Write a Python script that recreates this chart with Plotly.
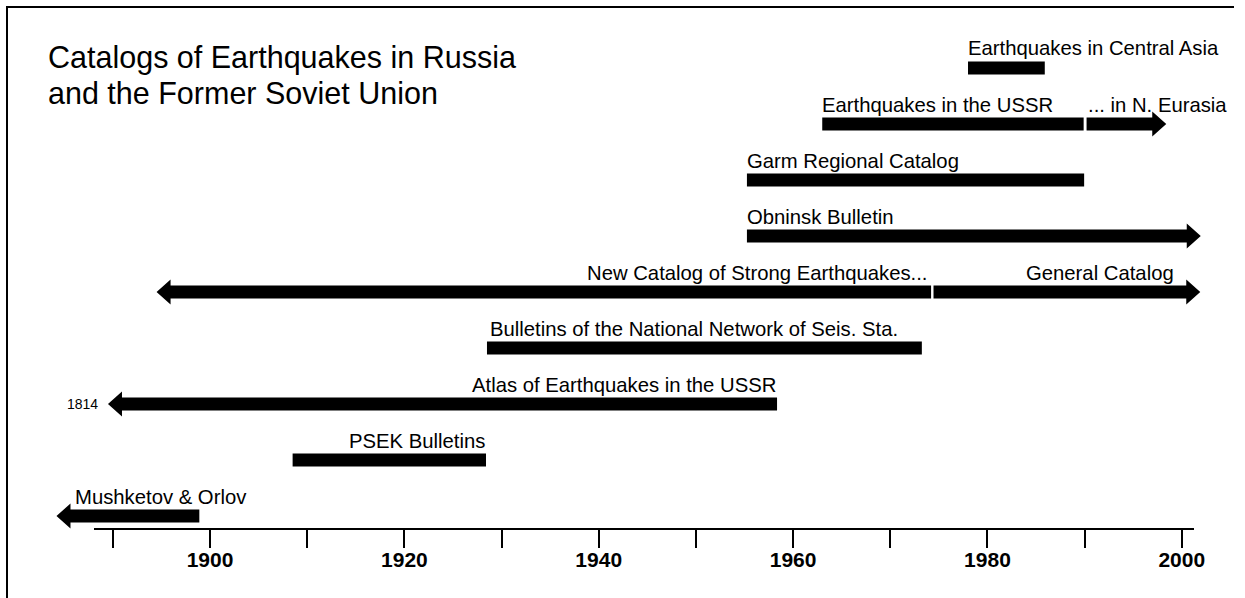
import plotly.graph_objects as go

# ---------------- data (years) ----------------
catalogs = [
    "Earthquakes in Central Asia",
    "Earthquakes in the USSR",
    "... in N. Eurasia",
    "Garm Regional Catalog",
    "Obninsk Bulletin",
    "New Catalog of Strong Earthquakes...",
    "General Catalog",
    "Bulletins of the National Network of Seis. Sta.",
    "Atlas of Earthquakes in the USSR",
    "PSEK Bulletins",
    "Mushketov & Orlov",
]
start_year = [1978.0, 1963.0, 1990.2, 1955.25, 1955.25, 1894.5, 1974.45, 1928.5, 1889.5, 1908.5, 1884.2]
end_year = [1985.9, 1989.9, 1998.4, 1989.95, 2001.95, 1974.2, 2001.9, 1973.25, 1958.35, 1928.4, 1898.9]
arrow_side = ["none", "none", "right", "none", "right", "left", "right", "none", "left", "none", "left"]
row_index = [0, 1, 1, 2, 3, 4, 4, 5, 6, 7, 8]
label_side = ["start", "start", "start", "start", "start", "end", "end", "start", "end", "end", "start"]

axis_tick_years = [1890, 1900, 1910, 1920, 1930, 1940, 1950, 1960, 1970, 1980, 1990, 2000]
axis_tick_labels = ["", "1900", "", "1920", "", "1940", "", "1960", "", "1980", "", "2000"]

title_lines = ["Catalogs of Earthquakes in Russia", "and the Former Soviet Union"]
atlas_origin_label = "1814"

# ---------------- layout constants (pixels) ----------------
W, H = 1245, 598
SX = 1.009                    # horizontal compensation
PX_PER_YEAR = 9.717
X_1900 = 210.0
ROW0, ROW_STEP = 68.0, 56.0
BAR_HALF, HEAD_HALF, HEAD_LEN_PX = 6.5, 12.5, 14.0
AXIS_Y, AXIS_X0, AXIS_X1 = 529.0, 94.0, 1194.0
FONT = "Liberation Sans, Arial, Helvetica, sans-serif"


def px_to_year(px):
    return 1900 + (px - X_1900) / PX_PER_YEAR


def px_to_paper(px):
    return min(1.0, px * SX / W)


HEAD_LEN = HEAD_LEN_PX / PX_PER_YEAR

label_xshift = {
    "Earthquakes in Central Asia": -2,
    "Earthquakes in the USSR": -2,
    "... in N. Eurasia": -1,
    "Garm Regional Catalog": -2,
    "Obninsk Bulletin": -2,
    "New Catalog of Strong Earthquakes...": -2,
    "General Catalog": -24,
    "Bulletins of the National Network of Seis. Sta.": 1,
    "Atlas of Earthquakes in the USSR": 1,
    "PSEK Bulletins": 1,
    "Mushketov & Orlov": 17,
}

fig = go.Figure()
annotations = []

for name, s, e, arr, r, side in zip(catalogs, start_year, end_year, arrow_side, row_index, label_side):
    c = ROW0 + ROW_STEP * r
    top, bot = c - BAR_HALF, c + BAR_HALF
    if arr == "right":
        b = e - HEAD_LEN
        xs = [s, b, b, e, b, b, s, s]
        ys = [top, top, c - HEAD_HALF, c, c + HEAD_HALF, bot, bot, top]
    elif arr == "left":
        b = s + HEAD_LEN
        xs = [e, b, b, s, b, b, e, e]
        ys = [top, top, c - HEAD_HALF, c, c + HEAD_HALF, bot, bot, top]
    else:
        xs = [s, e, e, s, s]
        ys = [top, top, bot, bot, top]
    fig.add_trace(go.Scatter(
        x=xs, y=ys, mode="lines", fill="toself", fillcolor="black",
        line=dict(width=0, color="black"), hoverinfo="skip", showlegend=False,
    ))
    annotations.append(dict(
        x=s if side == "start" else e, y=top, xref="x", yref="y",
        text=name, showarrow=False,
        xanchor="left" if side == "start" else "right", yanchor="bottom",
        xshift=label_xshift.get(name, 0),
        font=dict(family=FONT, size=20.3, color="black"),
    ))
    if name.startswith("Atlas"):
        annotations.append(dict(
            x=s, y=c, xref="x", yref="y", text=atlas_origin_label, showarrow=False,
            xanchor="right", yanchor="middle", xshift=-8,
            font=dict(family=FONT, size=14, color="black"),
        ))

# title (two lines)
for i, line in enumerate(title_lines):
    annotations.append(dict(
        x=px_to_paper(46), xref="paper", y=77 + 35 * i, yref="y",
        text=line, showarrow=False, xanchor="left", yanchor="bottom",
        font=dict(family=FONT, size=30.5, color="black"),
    ))

# invisible trace anchoring the timeline axis
fig.add_trace(go.Scatter(
    x=[axis_tick_years[1]], y=[AXIS_Y], xaxis="x2", yaxis="y", mode="markers",
    marker=dict(opacity=0), hoverinfo="skip", showlegend=False,
))

shapes = [
    dict(type="line", xref="paper", yref="paper", x0=px_to_paper(6), x1=px_to_paper(1237),
         y0=1 - 7 / H, y1=1 - 7 / H, line=dict(color="black", width=2)),
    dict(type="line", xref="paper", yref="paper", x0=px_to_paper(7), x1=px_to_paper(7),
         y0=0, y1=1 - 6 / H, line=dict(color="black", width=2)),
]

fig.update_layout(
    width=W, height=H, autosize=False,
    margin=dict(l=0, r=0, t=0, b=0),
    paper_bgcolor="white", plot_bgcolor="rgba(0,0,0,0)",
    showlegend=False,
    xaxis=dict(range=[px_to_year(0), px_to_year(W / SX)], visible=False, fixedrange=True),
    yaxis=dict(range=[H, 0], visible=False, fixedrange=True),
    xaxis2=dict(
        domain=[px_to_paper(AXIS_X0), px_to_paper(AXIS_X1)], anchor="free", position=1 - AXIS_Y / H,
        range=[px_to_year(AXIS_X0), px_to_year(AXIS_X1)],
        showline=True, linecolor="black", linewidth=2,
        ticks="outside", ticklen=18, tickwidth=2, tickcolor="black",
        tickmode="array", tickvals=axis_tick_years, ticktext=axis_tick_labels,
        tickfont=dict(family=FONT, size=21, color="black", weight="bold"),
        ticklabelstandoff=-6,
        showgrid=False, zeroline=False, fixedrange=True,
    ),
    annotations=annotations,
    shapes=shapes,
)

fig.write_html(
    "out.html",
    config={"displayModeBar": False, "responsive": False},
    post_script=(
        "document.documentElement.style.overflow='hidden';"
        "document.body.style.margin='0px';"
        "document.body.style.overflow='hidden';"
    ),
)
